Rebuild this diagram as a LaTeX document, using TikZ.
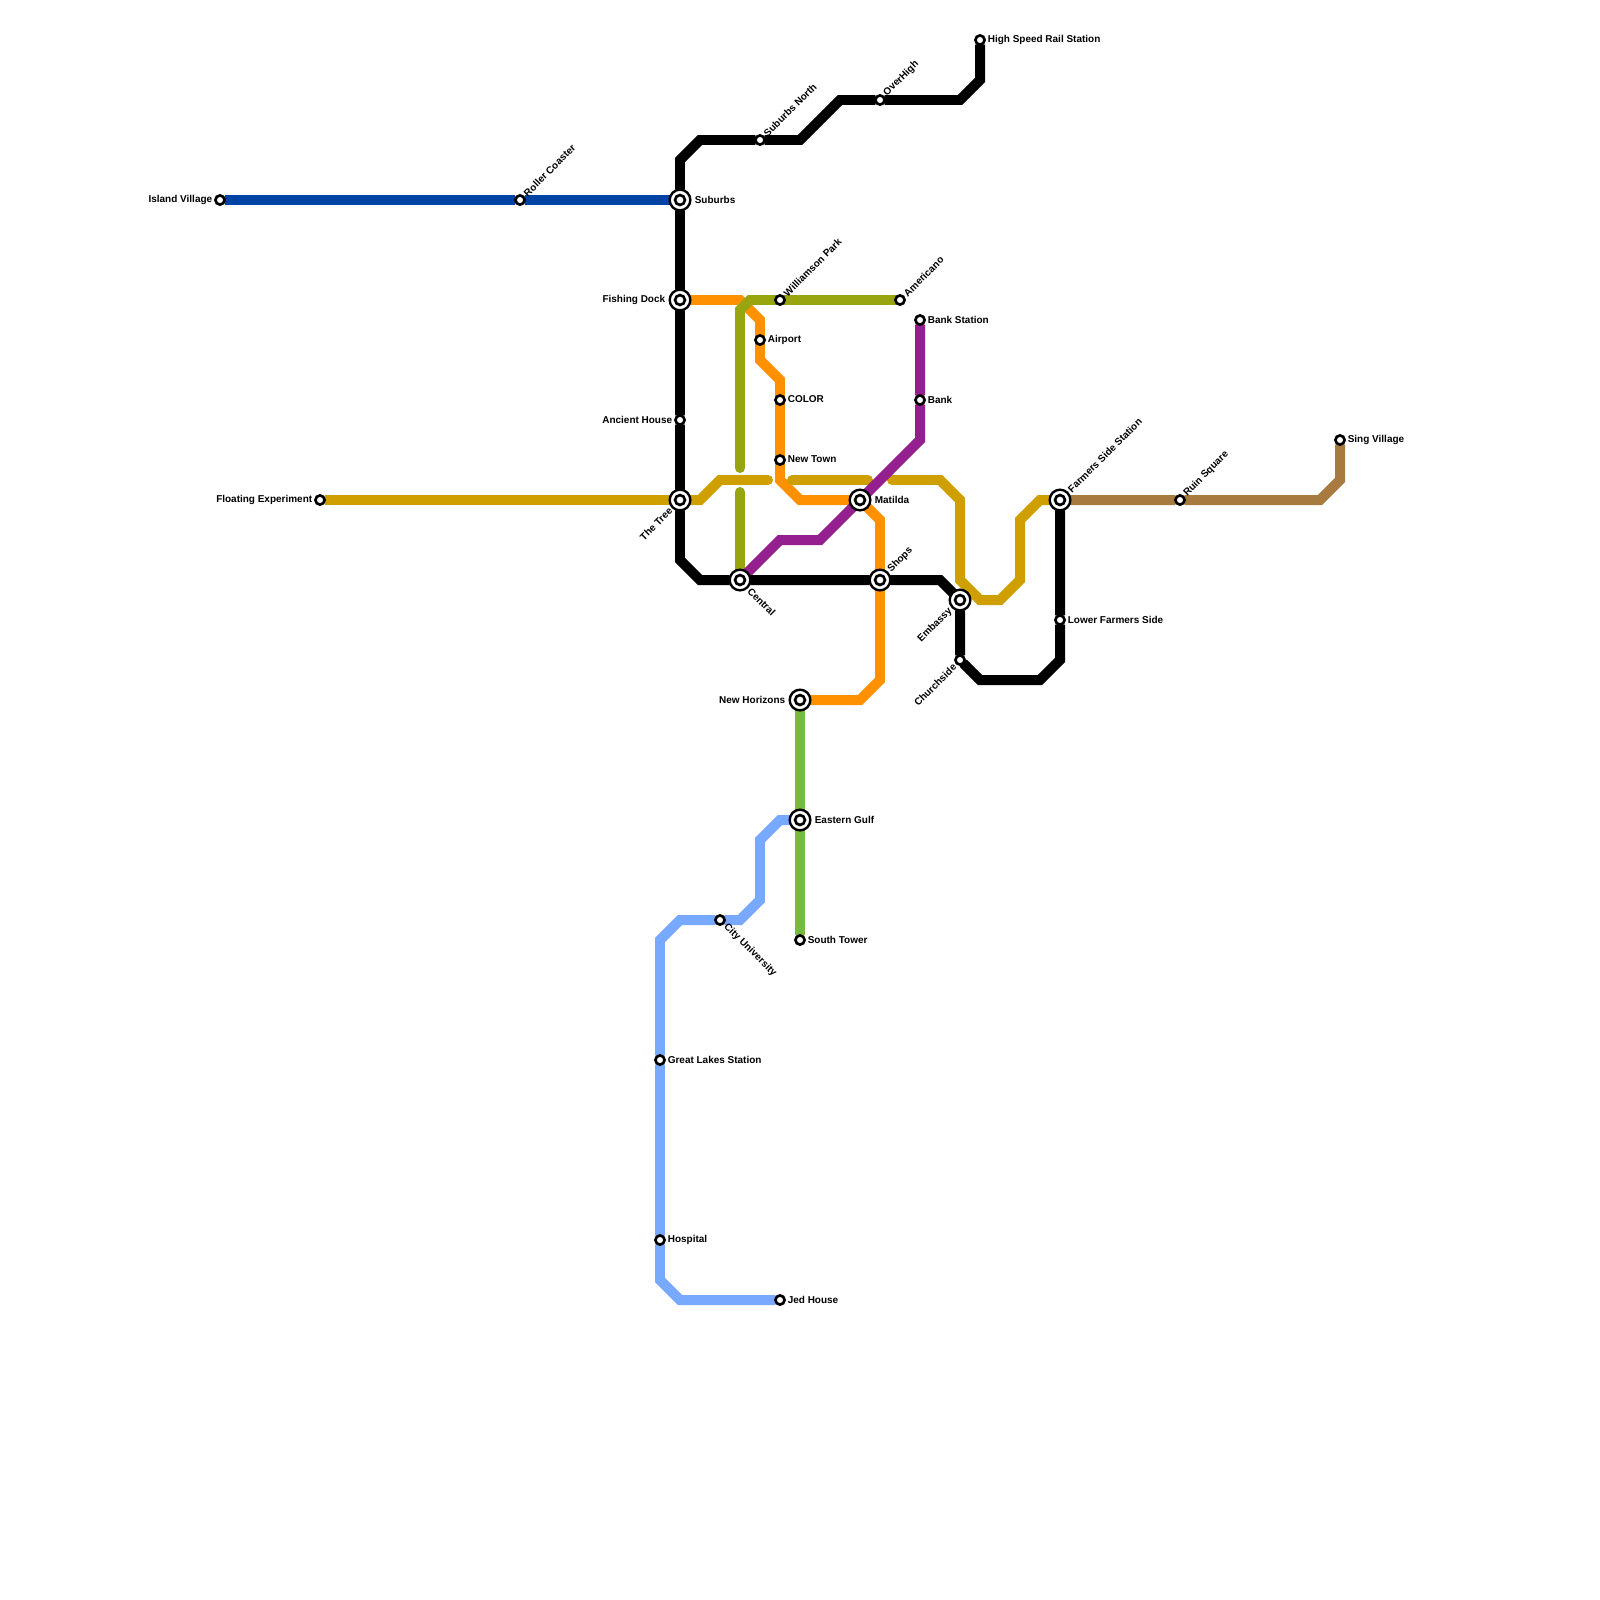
\documentclass[tikz,border=0pt]{standalone}
\usepackage{fontspec}
\setmainfont{Liberation Sans}
\usepackage{xcolor}
\usetikzlibrary{positioning,backgrounds}
\definecolor{lineblue}{HTML}{0043A5}
\definecolor{lineorange}{HTML}{FF9100}
\definecolor{lineolive}{HTML}{99A50E}
\definecolor{linegold}{HTML}{CF9F00}
\definecolor{linepurple}{HTML}{941F8F}
\definecolor{linegreen}{HTML}{76BB40}
\definecolor{linesky}{HTML}{76A9FF}
\definecolor{linebrown}{HTML}{A77A40}

\begin{document}
\begin{tikzpicture}[
  x=0.5cm, y=-0.5cm,
  node distance=2.3pt,
  stn/.style={circle, draw=black, fill=white, inner sep=0pt, outer sep=0pt, line width=1.9pt, minimum size=6.5pt},
  hub/.style={circle, draw=black, fill=white, inner sep=0pt, outer sep=0pt, line width=1.7pt, minimum size=14.7pt,
    path picture={\draw[black, line width=1.9pt] (path picture bounding box.center) circle (3.5pt);}},
  lbl/.style={inner sep=0pt, outer sep=0pt, font=\fontsize{7.1pt}{8pt}\selectfont\bfseries},
  lblh/.style={lbl, yshift=0.35pt},
  lbld/.style={lbl, inner xsep=2.2pt},
  ln/.style={line width=7.1pt, line join=miter},
  tun/.style={line width=7.1pt, line join=miter, line cap=round}
]
  \useasboundingbox (0,0) rectangle (80,80);

  % black line
  \node[stn] (highspeed) at (49,2) {};
  \node[stn] (overhigh) at (44,5) {};
  \node[stn] (subnorth) at (38,7) {};
  \node[hub] (suburbs) at (34,10) {};
  \node[hub] (fishing) at (34,15) {};
  \node[stn] (ancient) at (34,21) {};
  \node[hub] (tree) at (34,25) {};
  \node[hub] (central) at (37,29) {};
  \node[hub] (shops) at (44,29) {};
  \node[hub] (embassy) at (48,30) {};
  \node[stn] (church) at (48,33) {};
  \node[stn] (lowerfarm) at (53,31) {};
  \node[hub] (farmers) at (53,25) {};

  % other lines
  \node[stn] (island) at (11,10) {};
  \node[stn] (roller) at (26,10) {};
  \node[stn] (floating) at (16,25) {};
  \node[stn] (williamson) at (39,15) {};
  \node[stn] (americano) at (45,15) {};
  \node[stn] (airport) at (38,17) {};
  \node[stn] (color) at (39,20) {};
  \node[stn] (newtown) at (39,23) {};
  \node[stn] (bankst) at (46,16) {};
  \node[stn] (bank) at (46,20) {};
  \node[hub] (matilda) at (43,25) {};
  \node[stn] (ruin) at (59,25) {};
  \node[stn] (sing) at (67,22) {};
  \node[hub] (horizons) at (40,35) {};
  \node[hub] (gulf) at (40,41) {};
  \node[stn] (south) at (40,47) {};
  \node[stn] (city) at (36,46) {};
  \node[stn] (lakes) at (33,53) {};
  \node[stn] (hospital) at (33,62) {};
  \node[stn] (jed) at (39,65) {};

  \begin{scope}[on background layer]
    \draw[ln, lineblue] (island) -- (roller) -- (suburbs);
    \draw[ln, lineorange] (fishing) -- (37,15) -- (38,16) -- (38,18) -- (39,19) -- (39,24) -- (40,25) -- (matilda) -- (44,26) -- (44,34) -- (43,35) -- (horizons);
    \draw[ln, linegold] (floating) -- (tree);
    \draw[tun, linegold] (tree) -- (35,25) -- (36,24) -- (38.4,24);
    \draw[tun, linegold] (39.6,24) -- (43.4,24);
    \draw[tun, linegold] (44.6,24) -- (47,24) -- (48,25) -- (48,29) -- (49,30) -- (50,30) -- (51,29) -- (51,26) -- (52,25) -- (farmers);
    \draw[tun, lineolive] (americano) -- (williamson) -- (37.5,15) -- (37,15.5) -- (37,23.4);
    \draw[tun, lineolive] (37,24.6) -- (central);
    \draw[ln, linepurple] (bankst) -- (bank) -- (46,22) -- (41,27) -- (39,27) -- (central);
    \draw[ln, linegreen] (horizons) -- (gulf) -- (south);
    \draw[ln, linesky] (gulf) -- (39,41) -- (38,42) -- (38,45) -- (37,46) -- (city) -- (34,46) -- (33,47) -- (lakes) -- (hospital) -- (33,64) -- (34,65) -- (jed);
    \draw[ln, linebrown] (farmers) -- (ruin) -- (66,25) -- (67,24) -- (sing);
    \draw[ln, black] (highspeed) -- (49,4) -- (48,5) -- (overhigh) -- (42,5) -- (40,7) -- (subnorth) -- (35,7) -- (34,8) -- (suburbs) -- (fishing) -- (ancient) -- (tree) -- (34,28) -- (35,29) -- (central) -- (shops) -- (47,29) -- (embassy) -- (church) -- (49,34) -- (52,34) -- (53,33) -- (lowerfarm) -- (farmers);
  \end{scope}

  % labels
  \node[lblh, right=of highspeed] (highspeedlbl) {High Speed Rail Station};
  \node[lblh, right=3.2pt of suburbs] (suburbslbl) {Suburbs};
  \node[lblh, left=of island] (islandlbl) {Island Village};
  \node[lblh, left=3.2pt of fishing] (fishinglbl) {Fishing Dock};
  \node[lblh, left=of ancient] (ancientlbl) {Ancient House};
  \node[lblh, left=of floating] (floatinglbl) {Floating Experiment};
  \node[lblh, right=of airport] (airportlbl) {Airport};
  \node[lblh, right=of color] (colorlbl) {COLOR};
  \node[lblh, right=of newtown] (newtownlbl) {New Town};
  \node[lblh, right=of bankst] (bankstlbl) {Bank Station};
  \node[lblh, right=of bank] (banklbl) {Bank};
  \node[lblh, right=3.2pt of matilda] (matildalbl) {Matilda};
  \node[lblh, right=of lowerfarm] (lowerfarmlbl) {Lower Farmers Side};
  \node[lblh, right=of sing] (singlbl) {Sing Village};
  \node[lblh, left=3.2pt of horizons] (horizonslbl) {New Horizons};
  \node[lblh, right=3.2pt of gulf] (gulflbl) {Eastern Gulf};
  \node[lblh, right=of south] (southlbl) {South Tower};
  \node[lblh, right=of lakes] (lakeslbl) {Great Lakes Station};
  \node[lblh, right=of hospital] (hospitallbl) {Hospital};
  \node[lblh, right=of jed] (jedlbl) {Jed House};

  \node[lbld, rotate=45, anchor=west] (rollerlbl) at (roller.45) {Roller Coaster};
  \node[lbld, rotate=45, anchor=west] (subnorthlbl) at (subnorth.45) {Suburbs North};
  \node[lbld, rotate=45, anchor=west] (overhighlbl) at (overhigh.45) {OverHigh};
  \node[lbld, rotate=45, anchor=west] (williamsonlbl) at (williamson.45) {Williamson Park};
  \node[lbld, rotate=45, anchor=west] (americanolbl) at (americano.45) {Americano};
  \node[lbld, rotate=45, anchor=west] (shopslbl) at (shops.45) {Shops};
  \node[lbld, rotate=45, anchor=west] (farmerslbl) at (farmers.45) {Farmers Side Station};
  \node[lbld, rotate=45, anchor=west] (ruinlbl) at (ruin.45) {Ruin Square};
  \node[lbld, rotate=45, anchor=east] (treelbl) at (tree.225) {The Tree};
  \node[lbld, rotate=45, anchor=east] (embassylbl) at (embassy.225) {Embassy};
  \node[lbld, rotate=45, anchor=east] (churchlbl) at (church.225) {Churchside};
  \node[lbld, rotate=-45, anchor=west] (centrallbl) at (central.315) {Central};
  \node[lbld, rotate=-45, anchor=west] (citylbl) at (city.315) {City University};
\end{tikzpicture}
\end{document}
